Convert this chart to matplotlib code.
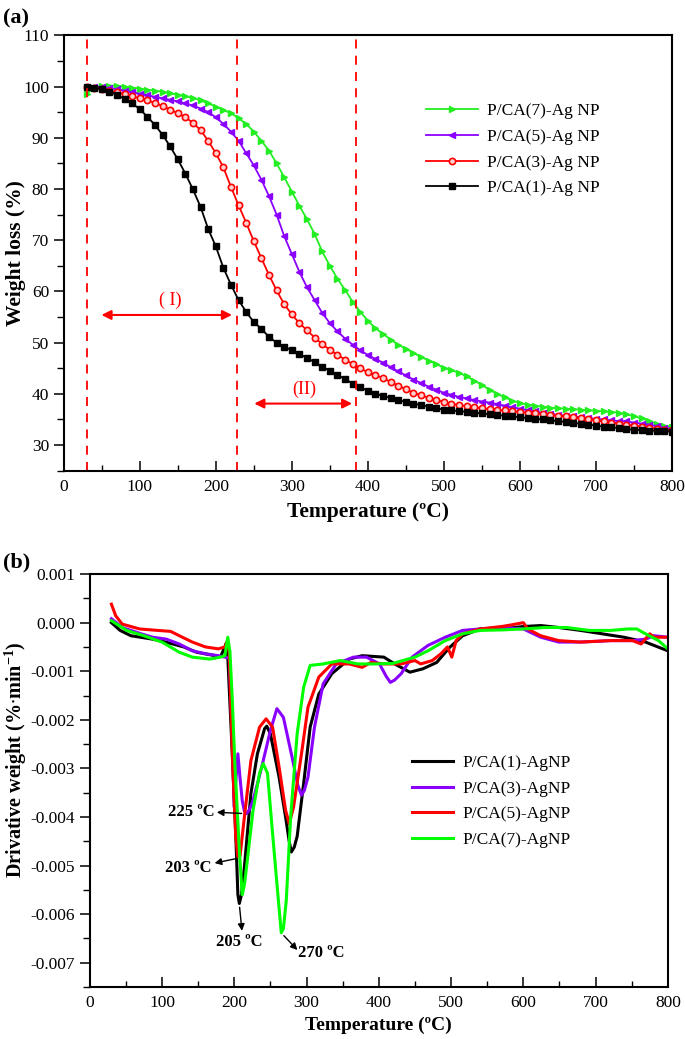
import numpy as np
import matplotlib
matplotlib.use("Agg")
import matplotlib.pyplot as plt
from matplotlib.ticker import MultipleLocator, FormatStrFormatter

plt.rcParams['font.family'] = ['Liberation Serif', 'DejaVu Serif']
plt.rcParams['mathtext.fontset'] = 'custom'
plt.rcParams['mathtext.rm'] = 'Liberation Serif'
plt.rcParams['mathtext.bf'] = 'Liberation Serif:bold'
plt.rcParams['axes.unicode_minus'] = False

# ---------- (a) TGA data, read every 10 C ----------
temp_a = np.arange(30, 801, 10)

tga_1 = [100.0, 99.8, 99.5, 99.0, 98.4, 97.6, 96.7, 95.6, 94.1, 92.5,
         90.6, 88.3, 85.8, 83.0, 79.9, 76.5, 72.2, 68.8, 64.6, 61.3,
         58.3, 56.0, 54.0, 52.7, 51.1, 50.0, 49.2, 48.5, 47.8, 47.0,
         46.2, 45.3, 44.5, 43.7, 42.9, 42.0, 41.3, 40.6, 40.0, 39.6,
         39.2, 38.8, 38.4, 38.1, 37.8, 37.5, 37.2, 36.9, 36.8, 36.6,
         36.5, 36.3, 36.2, 36.0, 35.9, 35.7, 35.6, 35.4, 35.3, 35.1,
         35.0, 34.8, 34.7, 34.5, 34.3, 34.2, 34.0, 33.8, 33.6, 33.5,
         33.3, 33.1, 33.0, 32.9, 32.8, 32.8, 32.7, 32.6]

tga_3 = [100.0, 99.8, 99.5, 99.2, 98.9, 98.5, 98.1, 97.7, 97.3, 96.8,
         96.2, 95.5, 94.8, 94.0, 92.9, 91.5, 89.4, 87.0, 84.2, 80.4,
         76.8, 73.4, 69.8, 66.5, 63.2, 60.2, 57.5, 55.5, 53.8, 52.4,
         51.0, 49.7, 48.6, 47.6, 46.7, 45.8, 45.0, 44.2, 43.6, 43.1,
         42.3, 41.6, 40.9, 40.2, 39.7, 39.2, 38.8, 38.4, 38.1, 37.8,
         37.6, 37.4, 37.2, 37.0, 36.9, 36.8, 36.6, 36.5, 36.3, 36.2,
         36.0, 35.9, 35.7, 35.6, 35.4, 35.2, 35.0, 34.8, 34.6, 34.4,
         34.2, 34.0, 33.8, 33.6, 33.4, 33.2, 33.0, 32.9]

tga_5 = [100.0, 100.0, 99.9, 99.7, 99.5, 99.2, 98.9, 98.6, 98.3, 98.0,
         97.7, 97.4, 97.1, 96.7, 96.3, 95.7, 95.0, 94.0, 92.7, 91.2,
         89.4, 87.0, 84.6, 81.8, 78.6, 75.0, 70.8, 67.3, 63.8, 60.8,
         58.3, 55.8, 53.8, 52.2, 50.8, 49.6, 48.5, 47.6, 46.8, 46.1,
         45.2, 44.4, 43.6, 42.8, 42.1, 41.4, 40.8, 40.2, 39.8, 39.4,
         39.1, 38.8, 38.5, 38.3, 38.0, 37.7, 37.4, 37.1, 36.8, 36.6,
         36.3, 36.1, 35.9, 35.7, 35.6, 35.4, 35.3, 35.1, 35.0, 34.8,
         34.7, 34.6, 34.4, 34.2, 34.0, 33.7, 33.4, 33.2]

tga_7 = [98.5, 99.8, 100.1, 100.2, 100.2, 100.0, 99.8, 99.6, 99.4, 99.2,
         99.0, 98.7, 98.4, 98.1, 97.8, 97.3, 96.7, 96.1, 95.4, 94.8,
         93.8, 92.7, 91.2, 89.4, 87.5, 85.0, 82.3, 79.5, 76.7, 74.1,
         71.2, 67.8, 65.0, 62.5, 60.3, 58.0, 56.0, 54.3, 52.8, 51.7,
         50.6, 49.6, 48.8, 48.0, 47.2, 46.5, 45.8, 45.1, 44.6, 44.1,
         43.4, 42.6, 41.7, 40.8, 40.0, 39.3, 38.7, 38.2, 37.9, 37.7,
         37.5, 37.3, 37.2, 37.1, 37.0, 36.9, 36.8, 36.7, 36.6, 36.5,
         36.3, 36.0, 35.6, 35.2, 34.7, 34.2, 33.8, 33.5]

region_lines = [30, 228, 385]

# ---------- (b) DTG data ----------
t_b1 = [30, 42, 57, 87, 105, 130, 148, 166, 181, 187, 189, 191, 196, 202, 205, 207,
        210, 214, 223, 232, 242, 245, 250, 262, 271, 276, 279, 283, 287, 296, 305,
        317, 335, 359, 377, 407, 422, 443, 461, 480, 498, 516, 540, 570, 600, 624,
        649, 679, 709, 739, 769, 800]
d_b1 = [0.00000, -0.00016, -0.00027, -0.00034, -0.00040, -0.00050, -0.00061, -0.00066,
        -0.00070, -0.00050, -0.00042, -0.00070, -0.00230, -0.00434, -0.00560, -0.00578,
        -0.00560, -0.00503, -0.00352, -0.00270, -0.00218, -0.00213, -0.00229, -0.00318,
        -0.00400, -0.00450, -0.00472, -0.00462, -0.00440, -0.00331, -0.00215, -0.00147,
        -0.00105, -0.00075, -0.00068, -0.00071, -0.00085, -0.00102, -0.00095, -0.00082,
        -0.00051, -0.00027, -0.00013, -0.00013, -0.00008, -0.00006, -0.00010, -0.00016,
        -0.00023, -0.00030, -0.00040, -0.00058]

t_b3 = [30, 45, 69, 87, 106, 124, 142, 160, 178, 193, 195, 197, 200, 202, 205, 208,
        211, 214, 217, 221, 226, 238, 250, 259, 268, 280, 288, 293, 297, 302, 311,
        323, 341, 365, 383, 401, 410, 416, 422, 431, 446, 468, 492, 516, 540, 570,
        600, 624, 649, 679, 721, 751, 769, 781, 800]
d_b3 = [0.00008, -0.00010, -0.00022, -0.00030, -0.00034, -0.00044, -0.00058, -0.00064,
        -0.00068, -0.00073, -0.00150, -0.00230, -0.00380, -0.00330, -0.00270, -0.00320,
        -0.00366, -0.00388, -0.00393, -0.00385, -0.00366, -0.00297, -0.00222, -0.00177,
        -0.00195, -0.00277, -0.00335, -0.00355, -0.00345, -0.00318, -0.00215, -0.00126,
        -0.00085, -0.00071, -0.00071, -0.00085, -0.00110, -0.00123, -0.00118, -0.00105,
        -0.00071, -0.00047, -0.00030, -0.00016, -0.00013, -0.00010, -0.00013, -0.00030,
        -0.00040, -0.00040, -0.00037, -0.00037, -0.00034, -0.00027, -0.00030]

t_b5 = [30, 36, 45, 69, 94, 112, 124, 142, 160, 178, 187, 190, 193, 198, 202, 205,
        208, 214, 223, 235, 244, 253, 262, 271, 276, 282, 293, 302, 317, 335, 359,
        377, 389, 407, 431, 450, 458, 474, 486, 495, 501, 507, 516, 540, 570, 582,
        600, 606, 624, 649, 679, 721, 751, 763, 775, 781, 800]
d_b5 = [0.00038, 0.00014, -0.00003, -0.00013, -0.00016, -0.00018, -0.00027, -0.00040,
        -0.00050, -0.00054, -0.00050, -0.00040, -0.00060, -0.00297, -0.00440, -0.00482,
        -0.00480, -0.00400, -0.00284, -0.00215, -0.00198, -0.00215, -0.00297, -0.00386,
        -0.00414, -0.00380, -0.00270, -0.00174, -0.00112, -0.00085, -0.00085, -0.00092,
        -0.00082, -0.00085, -0.00085, -0.00078, -0.00085, -0.00078, -0.00064, -0.00050,
        -0.00071, -0.00037, -0.00023, -0.00013, -0.00008, -0.00005, 0.00000, -0.00013,
        -0.00027, -0.00037, -0.00040, -0.00037, -0.00037, -0.00044, -0.00023, -0.00030,
        -0.00030]

t_b7 = [30, 51, 75, 100, 124, 142, 166, 181, 187, 191, 194, 197, 201, 207, 211, 214,
        217, 226, 235, 240, 246, 253, 261, 265, 268, 272, 278, 287, 296, 305, 323,
        347, 371, 395, 419, 450, 468, 492, 516, 540, 570, 600, 630, 660, 691, 721,
        745, 757, 769, 787, 800]
d_b7 = [0.00004, -0.00016, -0.00027, -0.00040, -0.00061, -0.00071, -0.00075, -0.00071,
        -0.00068, -0.00030, -0.00060, -0.00150, -0.00297, -0.00468, -0.00560, -0.00540,
        -0.00503, -0.00386, -0.00310, -0.00290, -0.00310, -0.00434, -0.00571, -0.00638,
        -0.00630, -0.00571, -0.00400, -0.00229, -0.00133, -0.00088, -0.00085, -0.00078,
        -0.00085, -0.00085, -0.00084, -0.00071, -0.00058, -0.00037, -0.00023, -0.00016,
        -0.00015, -0.00013, -0.00010, -0.00010, -0.00016, -0.00016, -0.00013, -0.00013,
        -0.00023, -0.00037, -0.00054]

green = '#22ee22'
purple = '#8a00ff'
red = '#ff0000'

fig = plt.figure(figsize=(6.85, 10.39), dpi=100)

# ================= panel (a) =================
ax1 = fig.add_axes([0.093, 0.547, 0.888, 0.419])
ax1.plot(temp_a, tga_7, color=green, lw=1.3, marker='>', ms=5, mec=green, mfc=green,
         label='P/CA(7)-Ag NP')
ax1.plot(temp_a, tga_5, color=purple, lw=1.3, marker='<', ms=5, mec=purple, mfc=purple,
         label='P/CA(5)-Ag NP')
ax1.plot(temp_a, tga_3, color=red, lw=1.3, marker='o', ms=4.5, mec=red, mfc='#ffd0d0',
         mew=1.2, label='P/CA(3)-Ag NP')
ax1.plot(temp_a, tga_1, color='black', lw=1.3, marker='s', ms=4, mec='black', mfc='black',
         label='P/CA(1)-Ag NP')

for xv in region_lines:
    ax1.axvline(xv, color=red, ls=(0, (5, 4)), lw=1.3)

ax1.annotate('', xy=(46, 55.4), xytext=(225, 55.4),
             arrowprops=dict(arrowstyle='<|-|>', color=red, lw=1.5, mutation_scale=14))
ax1.text(140, 58.2, '( I)', color=red, fontsize=13, ha='center', va='center')
ax1.annotate('', xy=(247, 38.1), xytext=(383, 38.1),
             arrowprops=dict(arrowstyle='<|-|>', color=red, lw=1.5, mutation_scale=14))
ax1.text(316, 40.8, '(II)', color=red, fontsize=13, ha='center', va='center')

ax1.set_xlim(0, 800)
ax1.set_ylim(25, 110)
ax1.xaxis.set_major_locator(MultipleLocator(100))
ax1.xaxis.set_minor_locator(MultipleLocator(50))
ax1.yaxis.set_minor_locator(MultipleLocator(5))
ax1.set_yticks(range(30, 111, 10))
ax1.set_xlabel('Temperature (\u00baC)', fontsize=15.5, fontweight='bold', labelpad=5)
ax1.set_ylabel('Weight loss (%)', fontsize=15.5, fontweight='bold', va='center')
ax1.yaxis.set_label_coords(-0.078, 0.5)
ax1.legend(loc='upper left', bbox_to_anchor=(0.57, 0.88), frameon=False, fontsize=12.5,
           handlelength=3.0, handletextpad=0.5, labelspacing=0.55)

# ================= panel (b) =================
ax2 = fig.add_axes([0.131, 0.050, 0.844, 0.3975])
ax2.plot(t_b1, d_b1, color='black', lw=2.2, label='P/CA(1)-AgNP')
ax2.plot(t_b3, d_b3, color=purple, lw=2.2, label='P/CA(3)-AgNP')
ax2.plot(t_b5, d_b5, color=red, lw=2.2, label='P/CA(5)-AgNP')
ax2.plot(t_b7, d_b7, color='#00ff00', lw=2.2, label='P/CA(7)-AgNP')

arw = dict(arrowstyle='-|>', color='black', lw=1.0, mutation_scale=10)
ax2.annotate('', xy=(172, -0.00390), xytext=(214, -0.00393), arrowprops=arw)
ax2.text(141, -0.00390, '225 \u00baC', fontsize=12, fontweight='bold', ha='center', va='center')
ax2.annotate('', xy=(169, -0.00496), xytext=(205, -0.00485), arrowprops=arw)
ax2.text(136, -0.00506, '203 \u00baC', fontsize=12, fontweight='bold', ha='center', va='center')
ax2.annotate('', xy=(211, -0.00640), xytext=(207, -0.00580), arrowprops=arw)
ax2.text(207, -0.00657, '205 \u00baC', fontsize=12, fontweight='bold', ha='center', va='center')
ax2.annotate('', xy=(290, -0.00678), xytext=(266, -0.00640), arrowprops=arw)
ax2.text(320, -0.00680, '270 \u00baC', fontsize=12, fontweight='bold', ha='center', va='center')

ax2.set_xlim(0, 800)
ax2.set_ylim(-0.0075, 0.001)
ax2.xaxis.set_major_locator(MultipleLocator(100))
ax2.xaxis.set_minor_locator(MultipleLocator(50))
ax2.yaxis.set_minor_locator(MultipleLocator(0.0005))
ax2.set_yticks(np.arange(-0.007, 0.0011, 0.001))
ax2.yaxis.set_major_formatter(FormatStrFormatter('%.3f'))
ax2.set_xlabel('Temperature (\u00baC)', fontsize=14, fontweight='bold', labelpad=4)
ax2.set_ylabel(r'Drivative weight (%$\bullet$min$^{\mathbf{-1}}$)', fontsize=14.5,
               fontweight='bold', va='center')
ax2.yaxis.set_label_coords(-0.128, 0.55)
ax2.legend(loc='upper left', bbox_to_anchor=(0.53, 0.6), frameon=False, fontsize=12.5,
           handlelength=2.4, handletextpad=0.5, labelspacing=0.55)

for ax in (ax1, ax2):
    ax.tick_params(axis='x', which='both', direction='in', top=False, labelsize=12.5, pad=6)
    ax.tick_params(axis='y', which='both', direction='out', right=False, labelsize=12.5)
    ax.tick_params(which='major', length=7, width=1.1)
    ax.tick_params(which='minor', length=5, width=1.0)
    ax.tick_params(axis='x', which='minor', length=4)
    for sp in ax.spines.values():
        sp.set_linewidth(1.5)

fig.text(0.005, 0.982, '(a)', fontsize=16, fontweight='bold', va='center')
fig.text(0.005, 0.459, '(b)', fontsize=16, fontweight='bold', va='center')

fig.savefig('out.png', dpi=100)
